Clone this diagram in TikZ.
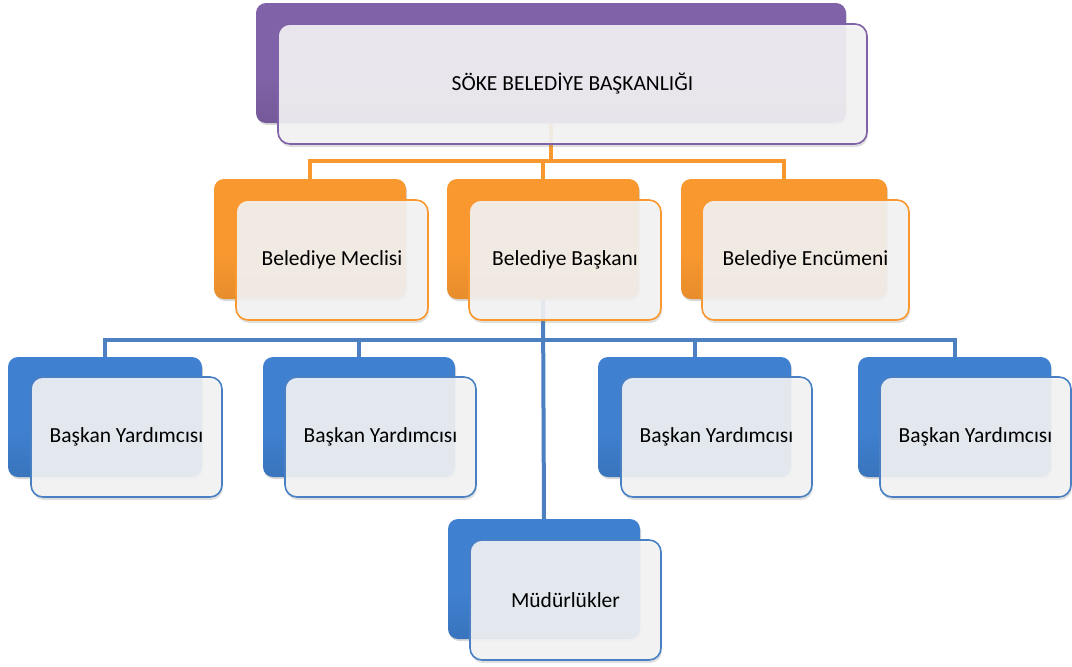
\documentclass[tikz,border=0pt]{standalone}
\usepackage{fontspec}
\setmainfont{Carlito}
\usetikzlibrary{shadows}
\pgfdeclarelayer{links}
\pgfsetlayers{links,main}
\definecolor{purp}{HTML}{8062A8}
\definecolor{purptop}{HTML}{B196DC}
\definecolor{purpbot}{HTML}{5A4180}
\definecolor{oran}{HTML}{F9982F}
\definecolor{orantop}{HTML}{FFC070}
\definecolor{oranbot}{HTML}{D8741A}
\definecolor{blu}{HTML}{3F80D0}
\definecolor{blutop}{HTML}{78B8F4}
\definecolor{blubot}{HTML}{2C62A6}
\definecolor{frontfill}{HTML}{F4F4F5}
\pgfdeclareverticalshading{purpsh}{100bp}{color(0bp)=(purpbot); color(12bp)=(purp!85!black); color(45bp)=(purp); color(90bp)=(purp); color(100bp)=(purptop)}
\pgfdeclareverticalshading{oransh}{100bp}{color(0bp)=(oranbot); color(12bp)=(oran!88!black); color(45bp)=(oran); color(90bp)=(oran); color(100bp)=(orantop)}
\pgfdeclareverticalshading{blush}{100bp}{color(0bp)=(blubot); color(12bp)=(blu!85!black); color(45bp)=(blu); color(90bp)=(blu); color(100bp)=(blutop)}
\tikzset{
  x=1pt, y=-1pt,
  backbox/.style={rounded corners=10pt, minimum width=192pt, minimum height=120pt, inner sep=0pt,
    drop shadow={opacity=0.3, shadow xshift=1pt, shadow yshift=-2pt}},
  purpback/.style={backbox, shading=purpsh},
  oranback/.style={backbox, shading=oransh},
  bluback/.style={backbox, shading=blush},
  frontbox/.style={rounded corners=12pt, minimum width=191pt, minimum height=120pt, inner sep=0pt,
    line width=1.6pt, fill=frontfill, fill opacity=0.9, text opacity=1, text=black,
    font=\fontsize{21.5}{25}\selectfont,
    drop shadow={opacity=0.25, shadow xshift=1pt, shadow yshift=-3pt}},
  purpfront/.style={frontbox, draw=purp},
  oranfront/.style={frontbox, draw=oran},
  blufront/.style={frontbox, draw=blu!85!gray},
  olink/.style={draw=oran, line width=4pt},
  blink/.style={draw=blu!80!gray, line width=4pt},
}
\begin{document}
\begin{tikzpicture}
\useasboundingbox (0,0) rectangle (1072,667);
% back boxes
\node[purpback, minimum width=590pt] (topb) at (551,63) {};
\node[oranback] (mecb) at (310,239) {};
\node[oranback] (bskb) at (543,239) {};
\node[oranback, minimum width=206pt] (encb) at (784,239) {};
\node[bluback, minimum width=194pt] (y1b) at (105,417) {};
\node[bluback] (y2b) at (359,417) {};
\node[bluback, minimum width=193pt] (y3b) at (694.5,417) {};
\node[bluback, minimum width=193pt] (y4b) at (954.5,417) {};
\node[bluback] (mudb) at (544,579) {};
% front boxes
\node[purpfront, minimum width=589pt] (top) at (572.5,84) {SÖKE BELEDİYE BAŞKANLIĞI};
\node[oranfront, minimum width=192pt] (mec) at (332,260) {Belediye Meclisi};
\node[oranfront, minimum width=192pt] (bsk) at (565,260) {Belediye Başkanı};
\node[oranfront, minimum width=207pt] (enc) at (805.5,260) {Belediye Encümeni};
\node[blufront] (y1) at (126.5,437) {Başkan Yardımcısı};
\node[blufront] (y2) at (380.5,437) {Başkan Yardımcısı};
\node[blufront] (y3) at (716.5,437) {Başkan Yardımcısı};
\node[blufront] (y4) at (975.5,437) {Başkan Yardımcısı};
\node[blufront] (mud) at (565.5,600) {Müdürlükler};
% connectors
\coordinate (obus) at (551,161);
\coordinate (bbus) at (544,340);
\begin{pgfonlayer}{links}
\draw[olink] (topb.south) -- (obus);
\draw[olink] (mecb.north) |- (obus) -| (encb.north);
\draw[olink] (bskb.north) -- (bskb.north |- obus);
\draw[blink] (bskb.south) -- (mudb.north);
\draw[blink] (y1b.north) |- (bbus) -| (y4b.north);
\draw[blink] (y2b.north) -- (y2b.north |- bbus);
\draw[blink] (y3b.north) -- (y3b.north |- bbus);
\end{pgfonlayer}
\end{tikzpicture}
\end{document}
